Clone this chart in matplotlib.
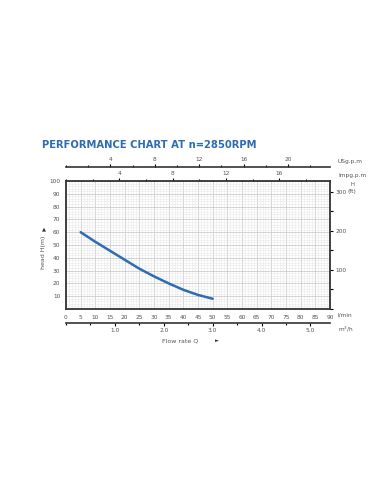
import matplotlib.pyplot as plt
import numpy as np
from matplotlib.ticker import MultipleLocator, FixedLocator

# curve: flow rate (l/min) vs head (m)
flow_lpm = [5, 10, 15, 20, 25, 30, 35, 40, 45, 50]
head_m = [60, 52.5, 45.5, 38.5, 31.5, 25.5, 20, 15, 11, 8]

lpm_ticks = list(range(0, 95, 5))
head_ticks = list(range(10, 110, 10))
m3h_labels = [1.0, 2.0, 3.0, 4.0, 5.0]
usg_labels = [4, 8, 12, 16, 20]
imp_labels = [4, 8, 12, 16]
ft_labels = [100, 200, 300]

BLUE = "#2d6cb3"
GREY = "#555555"
TICK_FS = 4.2

fig = plt.figure(figsize=(3.9, 4.84), dpi=100)
ax = fig.add_axes([66 / 390, 1 - 309 / 484, 264 / 390, 128 / 484])

ax.plot(flow_lpm, head_m, color=BLUE, lw=1.8, solid_capstyle="round", zorder=3)

ax.set_xlim(0, 90)
ax.set_ylim(0, 100)
ax.xaxis.set_major_locator(FixedLocator(lpm_ticks))
ax.xaxis.set_minor_locator(MultipleLocator(1))
ax.yaxis.set_major_locator(FixedLocator(head_ticks))
ax.yaxis.set_minor_locator(MultipleLocator(2))
ax.grid(which="major", color="#cccccc", lw=0.6)
ax.grid(which="minor", color="#e8e8e8", lw=0.4)
ax.tick_params(which="both", length=0, labelsize=TICK_FS, labelcolor=GREY, pad=4)
ax.tick_params(axis="x", top=True, bottom=False, direction="out")
for s in ax.spines.values():
    s.set_linewidth(1.3)
    s.set_color("#333333")

# imperial gallons on the top spine
imp = ax.secondary_xaxis("top", functions=(lambda q: q / 4.546, lambda g: g * 4.546))
imp.xaxis.set_major_locator(FixedLocator(imp_labels))
imp.xaxis.set_minor_locator(MultipleLocator(2))
imp.tick_params(which="major", length=2.5, width=0.8, labelsize=TICK_FS, labelcolor=GREY, pad=1)
imp.tick_params(which="minor", length=1.5, width=0.8)
imp.spines["top"].set_visible(False)

# US gallons on a separate line above
usg = ax.secondary_xaxis(142 / 128, functions=(lambda q: q / 3.785, lambda g: g * 3.785))
usg.xaxis.set_major_locator(FixedLocator(usg_labels))
usg.xaxis.set_minor_locator(MultipleLocator(2))
usg.tick_params(which="major", length=2.5, width=0.8, labelsize=TICK_FS, labelcolor=GREY, pad=1)
usg.tick_params(which="minor", length=1.5, width=0.8)
usg.spines["top"].set_linewidth(1.2)
usg.spines["top"].set_color("#333333")

# cubic metres per hour below
m3h = ax.secondary_xaxis(-14 / 128, functions=(lambda q: q * 0.06, lambda v: v / 0.06))
m3h.xaxis.set_major_locator(FixedLocator(m3h_labels))
m3h.xaxis.set_minor_locator(MultipleLocator(0.5))
m3h.xaxis.set_major_formatter(lambda v, p: f"{v:.1f}")
m3h.tick_params(which="major", length=2.5, width=0.8, labelsize=TICK_FS, labelcolor=GREY, pad=1)
m3h.tick_params(which="minor", length=1.5, width=0.8)
m3h.spines["bottom"].set_linewidth(1.2)
m3h.spines["bottom"].set_color("#333333")

# feet on the right
ft = ax.secondary_yaxis("right", functions=(lambda h: h * 3.281, lambda f: f / 3.281))
ft.yaxis.set_major_locator(FixedLocator(ft_labels))
ft.yaxis.set_minor_locator(MultipleLocator(50))
ft.tick_params(which="both", length=2.5, width=0.8, labelsize=TICK_FS, labelcolor=GREY, pad=1.5)
ft.spines["right"].set_visible(False)

fig.text(42 / 390, 1 - 145 / 484, "PERFORMANCE CHART AT n=2850RPM", color=BLUE,
         fontsize=7.2, fontweight="bold", va="center", ha="left")

unit_kw = dict(fontsize=TICK_FS, color=GREY, va="center", ha="left")
fig.text(338 / 390, 1 - 161 / 484, "USg.p.m", **unit_kw)
fig.text(338 / 390, 1 - 175 / 484, "Impg.p.m", **unit_kw)
fig.text(337 / 390, 1 - 315 / 484, "l/min", **unit_kw)
fig.text(338 / 390, 1 - 329 / 484, "m$^3$/h", **unit_kw)
fig.text(352 / 390, 1 - 185 / 484, "H", fontsize=TICK_FS - 0.4, color=GREY,
         va="center", ha="center")
fig.text(348 / 390, 1 - 192 / 484, "(ft)", fontsize=TICK_FS, color=GREY,
         va="center", ha="left")

fig.text(44 / 390, 1 - 252 / 484, "head H(m)", rotation=90, fontsize=TICK_FS + 0.3,
         color=GREY, va="center", ha="center")
fig.text(44 / 390, 1 - 229 / 484, "▲", fontsize=3.8, color="#333333", va="center", ha="center")
fig.text(180 / 390, 1 - 341 / 484, "Flow rate Q", fontsize=TICK_FS + 0.3, color=GREY,
         va="center", ha="center")
fig.text(217 / 390, 1 - 341 / 484, "►", fontsize=3.8, color="#333333", va="center", ha="center")

fig.savefig("out.png", dpi=100)
